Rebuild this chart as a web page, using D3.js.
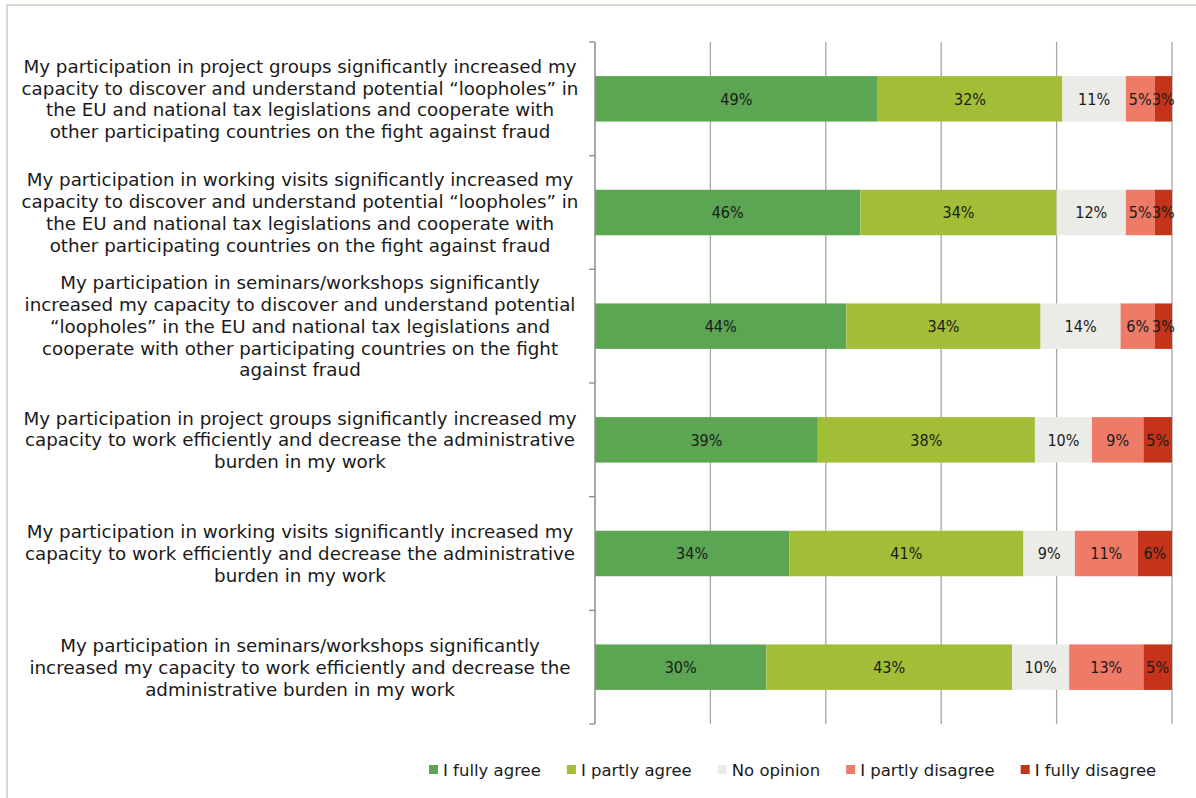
<!DOCTYPE html>
<html>
<head>
<meta charset="utf-8">
<script src="https://cdn.jsdelivr.net/npm/d3@7"></script>
<style>
  body { margin: 0; background: #fff; }
  svg { display: block; }
  text { font-family: "DejaVu Sans", Verdana, sans-serif; fill: #1a1a1a; }
</style>
</head>
<body>
<svg id="chart" width="1196" height="798"></svg>
<script>
// categories, each split into the lines shown in the chart
const categories = [
  ["My participation in project groups significantly increased my",
   "capacity to discover and understand potential \u201cloopholes\u201d in",
   "the EU and national tax legislations and cooperate with",
   "other participating countries on the fight against fraud"],
  ["My participation in working visits significantly increased my",
   "capacity to discover and understand potential \u201cloopholes\u201d in",
   "the EU and national tax legislations and cooperate with",
   "other participating countries on the fight against fraud"],
  ["My participation in seminars/workshops significantly",
   "increased my capacity to discover and understand potential",
   "\u201cloopholes\u201d in the EU and national tax legislations and",
   "cooperate with other participating countries on the fight",
   "against fraud"],
  ["My participation in project groups significantly increased my",
   "capacity to work efficiently and decrease the administrative",
   "burden in my work"],
  ["My participation in working visits significantly increased my",
   "capacity to work efficiently and decrease the administrative",
   "burden in my work"],
  ["My participation in seminars/workshops significantly",
   "increased my capacity to work efficiently and decrease the",
   "administrative burden in my work"]
];

const seriesNames = ["I fully agree", "I partly agree", "No opinion", "I partly disagree", "I fully disagree"];
const seriesColors = ["#5ca653", "#a2be37", "#ebebe7", "#ed7b67", "#c4341a"];

// percentages per series, one value per category (top to bottom)
const fullyAgree     = [49, 46, 44, 39, 34, 30];
const partlyAgree    = [32, 34, 34, 38, 41, 43];
const noOpinion      = [11, 12, 14, 10,  9, 10];
const partlyDisagree = [ 5,  5,  6,  9, 11, 13];
const fullyDisagree  = [ 3,  3,  3,  5,  6,  5];

const xTicks = [0, 0.2, 0.4, 0.6, 0.8, 1];

const seriesValues = [fullyAgree, partlyAgree, noOpinion, partlyDisagree, fullyDisagree];
const rows = categories.map((c, i) => {
  const r = { idx: i };
  seriesNames.forEach((s, j) => r[s] = seriesValues[j][i]);
  return r;
});

const svg = d3.select("#chart");

// outer frame (right/bottom edges fall outside the picture)
svg.append("rect")
  .attr("x", 7).attr("y", 5)
  .attr("width", 1200).attr("height", 800)
  .attr("fill", "#fff")
  .attr("stroke", "#d9d9cf")
  .attr("stroke-width", 2);

const plotL = 595, plotR = 1172, plotT = 42, plotB = 724;

const x = d3.scaleLinear().domain([0, 1]).range([plotL, plotR]);
const y = d3.scaleBand()
  .domain(d3.range(categories.length))
  .range([plotT, plotB])
  .paddingInner(0.6)
  .paddingOuter(0.3);
const step = y.step();

const stack = d3.stack().keys(seriesNames).offset(d3.stackOffsetExpand);
const stacked = stack(rows);

// vertical gridlines
svg.append("g")
  .selectAll("line")
  .data(xTicks.slice(1))
  .join("line")
  .attr("x1", d => x(d)).attr("x2", d => x(d))
  .attr("y1", plotT).attr("y2", plotB)
  .attr("stroke", "#a6a6a6")
  .attr("stroke-width", 1.3);

// bars
const layer = svg.append("g")
  .selectAll("g")
  .data(stacked)
  .join("g")
  .attr("fill", (d, i) => seriesColors[i]);

layer.selectAll("rect")
  .data(d => d.map(p => ({ p, key: d.key })))
  .join("rect")
  .attr("x", d => x(d.p[0]))
  .attr("y", d => y(d.p.data.idx))
  .attr("width", d => x(d.p[1]) - x(d.p[0]))
  .attr("height", y.bandwidth());

// value labels
layer.selectAll("text")
  .data(d => d.map(p => ({ p, key: d.key })))
  .join("text")
  .attr("x", d => (x(d.p[0]) + x(d.p[1])) / 2)
  .attr("y", d => y(d.p.data.idx) + y.bandwidth() / 2)
  .attr("dy", "0.36em")
  .attr("text-anchor", "middle")
  .style("font-family", "'DejaVu Sans Condensed', 'DejaVu Sans', sans-serif")
  .style("font-size", "16px")
  .text(d => d.p.data[d.key] + "%");

// left axis with ticks between categories
const axis = svg.append("g");
axis.append("line")
  .attr("x1", plotL).attr("x2", plotL)
  .attr("y1", plotT).attr("y2", plotB)
  .attr("stroke", "#8c8c8c").attr("stroke-width", 1.5);
axis.selectAll(".tick")
  .data(d3.range(categories.length + 1))
  .join("line")
  .attr("x1", plotL - 6).attr("x2", plotL)
  .attr("y1", i => plotT + i * step).attr("y2", i => plotT + i * step)
  .attr("stroke", "#8c8c8c").attr("stroke-width", 1.3);

// category labels
const lineH = 21.8;
svg.append("g")
  .selectAll("text")
  .data(categories)
  .join("text")
  .attr("text-anchor", "middle")
  .style("font-size", "18.3px")
  .each(function(lines, i) {
    const cy = y(i) + y.bandwidth() / 2;
    const y0 = cy - (lines.length - 1) * lineH / 2;
    d3.select(this).selectAll("tspan")
      .data(lines)
      .join("tspan")
      .attr("x", 300)
      .attr("y", (l, k) => y0 + k * lineH)
      .attr("dy", "0.36em")
      .text(l => l);
  });

// legend
const legend = svg.append("g").attr("transform", "translate(429,770)");
let lx = 0;
seriesNames.forEach((name, i) => {
  const g = legend.append("g").attr("transform", `translate(${lx},0)`);
  g.append("rect")
    .attr("x", 0).attr("y", -5)
    .attr("width", 9).attr("height", 9)
    .attr("fill", seriesColors[i]);
  const t = g.append("text")
    .attr("x", 14).attr("dy", "0.36em")
    .style("font-size", "16.5px")
    .text(name);
  lx += 14 + t.node().getComputedTextLength() + 26;
});
</script>
</body>
</html>
